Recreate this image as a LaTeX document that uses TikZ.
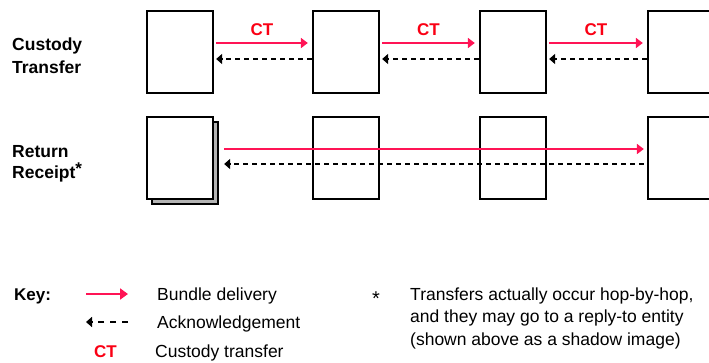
\documentclass[tikz,border=0pt]{standalone}
\usepackage{fontspec}
\setmainfont{Liberation Sans}
\usetikzlibrary{arrows.meta}
\definecolor{linered}{RGB}{255,20,85}
\definecolor{ctred}{RGB}{250,0,20}
\definecolor{shadowgray}{RGB}{180,180,180}
\tikzset{
  hopbox/.style={draw=black, line width=2.3pt, fill=white, minimum width=66pt, minimum height=82pt, inner sep=0pt},
  delivery/.style={draw=linered, line width=2.4pt, -{Triangle[length=7pt,width=10pt]}},
  ack/.style={draw=black, line width=2.4pt, dash pattern=on 5pt off 4pt, -{Triangle[length=6pt,width=10pt]}},
  keyack/.style={ack, dash pattern=on 6pt off 6pt},
  rowlabel/.style={anchor=base west, inner sep=0pt, font=\fontsize{17.5}{20}\selectfont\bfseries},
  ctlabel/.style={above=6pt, inner sep=0pt, text=ctred, font=\fontsize{17}{20}\selectfont\bfseries},
  keytext/.style={anchor=base west, inner sep=0pt, font=\fontsize{17.5}{20}\selectfont}
}
\begin{document}
\begin{tikzpicture}[x=1pt, y=-1pt]
  \useasboundingbox (0,0) rectangle (709,362);

  % row labels
  \node[rowlabel] (lct1) at (12,50) {Custody};
  \node[rowlabel] (lct2) at (12,73) {Transfer};
  \node[rowlabel] (lrr1) at (12,157) {Return};
  \node[rowlabel] (lrr2) at (12,178) {Receipt\raisebox{4pt}{\fontsize{17}{17}\selectfont *}};

  % custody transfer row
  \node[hopbox] (a1) at (180,52) {};
  \node[hopbox] (a2) at (346,52) {};
  \node[hopbox] (a3) at (513,52) {};
  \node[hopbox] (a4) at (681,52) {};

  \draw[delivery] ([xshift=2pt,yshift=9pt]a1.east) -- node[ctlabel] (ct1) {CT} ([xshift=-4pt,yshift=9pt]a2.west);
  \draw[delivery] ([xshift=2pt,yshift=9pt]a2.east) -- node[ctlabel] (ct2) {CT} ([xshift=-4pt,yshift=9pt]a3.west);
  \draw[delivery] ([xshift=2pt,yshift=9pt]a3.east) -- node[ctlabel] (ct3) {CT} ([xshift=-4pt,yshift=9pt]a4.west);

  \draw[ack] ([yshift=-7pt]a2.west) -- ([xshift=2pt,yshift=-7pt]a1.east);
  \draw[ack] ([yshift=-7pt]a3.west) -- ([xshift=2pt,yshift=-7pt]a2.east);
  \draw[ack] ([yshift=-7pt]a4.west) -- ([xshift=2pt,yshift=-7pt]a3.east);

  % return receipt row, with the shadowed reply-to entity
  \node[hopbox, fill=shadowgray] (s1) at (185,163) {};
  \node[hopbox] (b1) at (180,158) {};
  \node[hopbox] (b2) at (346,158) {};
  \node[hopbox] (b3) at (513,158) {};
  \node[hopbox] (b4) at (681,158) {};

  \draw[delivery] ([xshift=10pt,yshift=9pt]b1.east) -- ([xshift=-3pt,yshift=9pt]b4.west);
  \draw[ack] ([xshift=-3pt,yshift=-6pt]b4.west) -- ([xshift=10pt,yshift=-6pt]b1.east);

  % key
  \node[anchor=base west, inner sep=0pt, font=\fontsize{17}{20}\selectfont\bfseries] (key) at (14,300) {Key:};
  \coordinate (kd1) at (86,294);
  \coordinate (kd2) at (128,294);
  \coordinate (ka1) at (128,322);
  \coordinate (ka2) at (86,322);
  \draw[delivery, -{Triangle[length=8pt,width=11pt]}] (kd1) -- (kd2);
  \draw[keyack] (ka1) -- (ka2);
  \node[anchor=base west, inner sep=0pt, text=ctred, font=\fontsize{17}{20}\selectfont\bfseries] (kct) at (94,357) {CT};
  \node[keytext] (k1) at (157,300) {Bundle delivery};
  \node[keytext] (k2) at (157,328) {Acknowledgement};
  \node[keytext] (k3) at (155,357) {Custody transfer};

  \node[keytext] (star) at (372,305) {\fontsize{20}{20}\selectfont *};
  \node[keytext] (n1) at (410,300) {Transfers actually occur hop-by-hop,};
  \node[keytext] (n2) at (410,322.5) {and they may go to a reply-to entity};
  \node[keytext] (n3) at (410,345) {(shown above as a shadow image)};
\end{tikzpicture}
\end{document}
